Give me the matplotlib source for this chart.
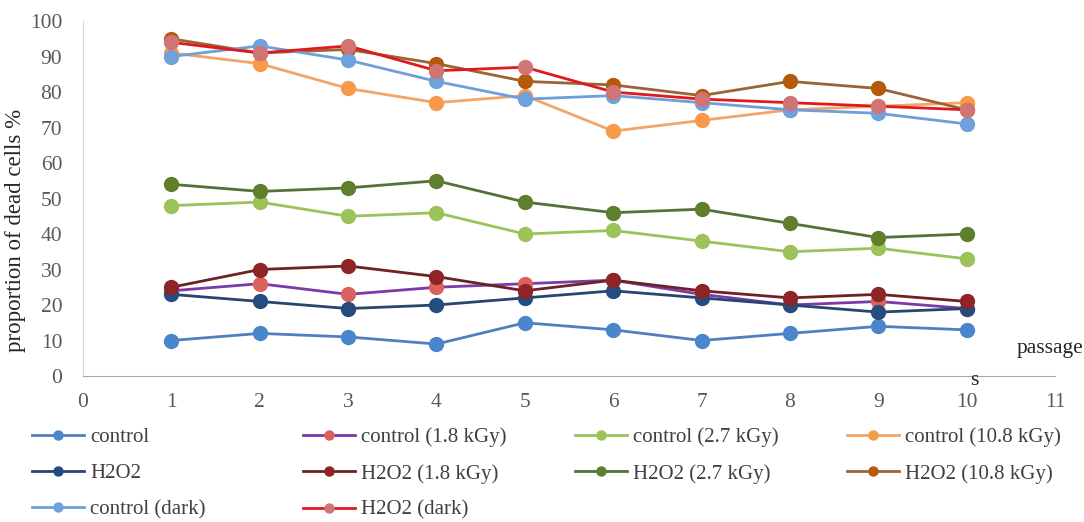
import numpy as np
import matplotlib.pyplot as plt

plt.rcParams['font.family'] = ['Liberation Serif', 'DejaVu Serif']

passages = [1, 2, 3, 4, 5, 6, 7, 8, 9, 10]

control = [10, 12, 11, 9, 15, 13, 10, 12, 14, 13]
control_18 = [24, 26, 23, 25, 26, 27, 23, 20, 21, 19]
control_27 = [48, 49, 45, 46, 40, 41, 38, 35, 36, 33]
control_108 = [91, 88, 81, 77, 79, 69, 72, 75, 76, 77]
h2o2 = [23, 21, 19, 20, 22, 24, 22, 20, 18, 19]
h2o2_18 = [25, 30, 31, 28, 24, 27, 24, 22, 23, 21]
h2o2_27 = [54, 52, 53, 55, 49, 46, 47, 43, 39, 40]
h2o2_108 = [95, 91, 92, 88, 83, 82, 79, 83, 81, 75]
control_dark = [90, 93, 89, 83, 78, 79, 77, 75, 74, 71]
h2o2_dark = [94, 91, 93, 86, 87, 80, 78, 77, 76, 75]

# (label, values, line colour, marker colour)
series = [
    ('control', control, '#4F7FBF', '#4A86CC'),
    ('control (1.8 kGy)', control_18, '#7A3AA8', '#D9625C'),
    ('control (2.7 kGy)', control_27, '#9CC25A', '#9CC25A'),
    ('control (10.8 kGy)', control_108, '#F3A468', '#F79A4A'),
    ('H2O2', h2o2, '#27456F', '#244C7E'),
    ('H2O2 (1.8 kGy)', h2o2_18, '#6E2226', '#8E2426'),
    ('H2O2 (2.7 kGy)', h2o2_27, '#56703A', '#5E7F2C'),
    ('H2O2 (10.8 kGy)', h2o2_108, '#9A6434', '#B45A0A'),
    ('control (dark)', control_dark, '#6F9FD6', '#6FA1DC'),
    ('H2O2 (dark)', h2o2_dark, '#E0191E', '#D07476'),
]

fig = plt.figure(figsize=(10.84, 5.22), dpi=100)
ax = fig.add_axes([0.0766, 0.2797, 0.8967, 0.680])

handles = {}
for label, vals, lc, mc in series:
    ln, = ax.plot(passages, vals, color=lc, lw=2, marker='o', markersize=10,
                  markerfacecolor=mc, markeredgecolor=mc, label=label)
    handles[label] = ln

ax.set_xlim(0, 11)
ax.set_ylim(0, 100)
ax.set_xticks(range(0, 12))
ax.set_yticks(range(0, 101, 10))
ax.tick_params(length=0, labelsize=15.5, labelcolor='#595959')
ax.tick_params(axis='y', pad=15)
ax.tick_params(axis='x', pad=12)
for s in ['top', 'right']:
    ax.spines[s].set_visible(False)
ax.spines['left'].set_color('#D9D9D9')
ax.spines['bottom'].set_color('#A6A6A6')
ax.set_ylabel('proportion of dead cells %', fontsize=16.5, color='#262626')
ax.yaxis.set_label_coords(-0.059, 0.41)

fig.text(0.999, 0.323, 'passage', fontsize=15.5, color='#262626', ha='right')
fig.text(0.895, 0.262, 's', fontsize=15.5, color='#262626', ha='left')

# legend laid out in four columns like the original
columns = [
    ['control', 'H2O2', 'control (dark)'],
    ['control (1.8 kGy)', 'H2O2 (1.8 kGy)', 'H2O2 (dark)'],
    ['control (2.7 kGy)', 'H2O2 (2.7 kGy)'],
    ['control (10.8 kGy)', 'H2O2 (10.8 kGy)'],
]
col_x = [0.0295, 0.2795, 0.5305, 0.7815]
for cx, names in zip(col_x, columns):
    fig.legend([handles[n] for n in names], names, loc='upper left',
               bbox_to_anchor=(cx, 0.181), frameon=False, fontsize=15,
               handlelength=2.5, handletextpad=0.29, labelspacing=0.8,
               markerscale=0.65, labelcolor='#404040', borderpad=0,
               borderaxespad=0)

fig.savefig('out.png', dpi=100)
